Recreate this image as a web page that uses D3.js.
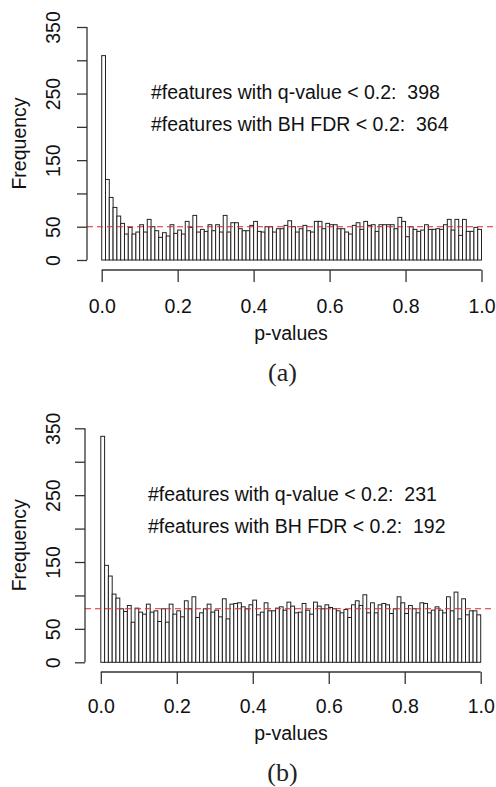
<!DOCTYPE html>
<html><head><meta charset="utf-8">
<script src="https://cdn.jsdelivr.net/npm/d3@7"></script>
<style>html,body{margin:0;padding:0;background:#fff;}svg{display:block;}</style>
</head><body>
<script>
// ---- data ----
const binEdges = d3.range(0, 1.0001, 0.01).map(v => +v.toFixed(2));
const countsA = [307,121,94,79,66,55,39,49,39,42, 53,42,61,50,44,34,41,36,53,40,
  45,39,58,49,67,42,46,43,53,44, 53,42,67,42,56,56,47,44,44,52,
  58,43,42,50,50,42,47,47,52,59, 50,42,47,52,44,42,58,58,47,55,
  53,53,47,47,42,39,52,56,46,58, 52,53,43,53,53,53,53,47,64,58,
  35,50,46,43,45,53,46,46,47,46, 53,61,45,61,37,61,43,43,49,46];
const countsB = [338,145,129,102,96,80,76,85,60,81, 75,72,87,75,77,61,80,60,87,72,
  77,68,92,80,98,67,74,80,87,75, 78,68,95,65,87,88,89,83,80,86,
  93,71,75,89,77,77,81,83,78,90, 84,74,75,88,78,72,90,84,80,86,
  82,80,77,74,79,67,86,92,85,101, 74,89,74,86,88,86,73,80,98,89,
  73,85,80,74,89,88,74,78,83,78, 74,98,77,105,65,95,71,77,77,71];
const yTicks = [0,50,100,150,200,250,300,350];
const yTickLabels = [0,50,150,250,350];
const xTicks = [0,0.2,0.4,0.6,0.8,1.0];
const refLines = [50, 80];
const qCounts = [398, 231];
const bhCounts = [364, 192];
const panelLabels = ["(a)", "(b)"];

// ---- layout ----
const panels = [
  {counts: countsA, ref: refLines[0], q: qCounts[0], bh: bhCounts[0], lab: panelLabels[0],
   axX: 87, y0: 260, y350: 27, x0: 101.7, x1: 481.5, xAxY: 270, annX: 151, annY: 99, off: 0},
  {counts: countsB, ref: refLines[1], q: qCounts[1], bh: bhCounts[1], lab: panelLabels[1],
   axX: 85, y0: 662.3, y350: 428.3, x0: 100.8, x1: 480.7, xAxY: 672, annX: 148, annY: 501, off: 400}
];

const svg = d3.select("body").append("svg").attr("width", 496).attr("height", 787);
const font = "'Liberation Sans', Arial, sans-serif";
const fs = 19.5;

panels.forEach(p => {
  const g = svg.append("g");
  const x = d3.scaleLinear().domain([0, 1]).range([p.x0, p.x1]);
  const y = d3.scaleLinear().domain([0, 350]).range([p.y0, p.y350]);

  // bars
  g.selectAll("rect.bar").data(p.counts).enter().append("rect")
    .attr("x", (d, i) => x(binEdges[i]))
    .attr("width", (d, i) => x(binEdges[i + 1]) - x(binEdges[i]))
    .attr("y", d => y(d))
    .attr("height", d => y(0) - y(d))
    .attr("fill", "#fff").attr("stroke", "#222").attr("stroke-width", 1);

  // reference line
  g.append("line").attr("x1", p.axX).attr("x2", 494)
    .attr("y1", y(p.ref)).attr("y2", y(p.ref))
    .attr("stroke", "#e02828").attr("stroke-width", 1.1).attr("stroke-dasharray", "6,4");

  // y axis
  const yAxis = d3.axisLeft(y).tickValues(yTicks).tickSize(10)
    .tickFormat(d => yTickLabels.includes(d) ? d : "");
  const ya = g.append("g").attr("transform", `translate(${p.axX},0)`).call(yAxis);
  ya.select(".domain").attr("stroke", "#333").attr("stroke-width", 1.3)
    .attr("d", `M0,${y(0)}V${y(350)}`);
  ya.selectAll(".tick line").attr("stroke", "#333").attr("stroke-width", 1.3);
  ya.selectAll(".tick text")
    .attr("font-family", font).attr("font-size", fs).attr("fill", "#111")
    .attr("text-anchor", "middle")
    .attr("x", null).attr("dy", null).attr("y", 0)
    .attr("transform", `translate(${59.5 - p.axX},0) rotate(-90)`);

  // x axis
  const xAxis = d3.axisBottom(x).tickValues(xTicks).tickSize(12).tickFormat(d3.format(".1f"));
  const xa = g.append("g").attr("transform", `translate(0,${p.xAxY})`).call(xAxis);
  xa.select(".domain").attr("stroke", "#333").attr("stroke-width", 1.3)
    .attr("d", `M${x(0)},0H${x(1)}`);
  xa.selectAll(".tick line").attr("stroke", "#333").attr("stroke-width", 1.3);
  xa.selectAll(".tick text").attr("font-family", font).attr("font-size", fs)
    .attr("fill", "#111").attr("dy", null).attr("y", 313 + p.off - p.xAxY);

  // axis titles
  g.append("text").attr("transform", `translate(26,${(p.y0 + p.y350) / 2}) rotate(-90)`)
    .attr("text-anchor", "middle").attr("font-family", font).attr("font-size", fs)
    .attr("fill", "#111").text("Frequency");
  g.append("text").attr("x", 291).attr("y", 340 + p.off)
    .attr("text-anchor", "middle").attr("font-family", font).attr("font-size", fs)
    .attr("fill", "#111").text("p-values");

  // annotations
  g.append("text").attr("x", p.annX).attr("y", p.annY).attr("font-family", font)
    .attr("font-size", fs).attr("fill", "#111")
    .style("white-space", "pre").text(`#features with q-value < 0.2:  ${p.q}`);
  g.append("text").attr("x", p.annX).attr("y", p.annY + 32).attr("font-family", font)
    .attr("font-size", fs).attr("fill", "#111")
    .style("white-space", "pre").text(`#features with BH FDR < 0.2:  ${p.bh}`);

  // panel label
  g.append("text").attr("x", 282.5).attr("y", 381 + p.off).attr("text-anchor", "middle")
    .attr("font-family", "'Liberation Serif', 'DejaVu Serif', serif").attr("font-size", 26)
    .attr("fill", "#222").text(p.lab);
});
</script>
</body></html>
